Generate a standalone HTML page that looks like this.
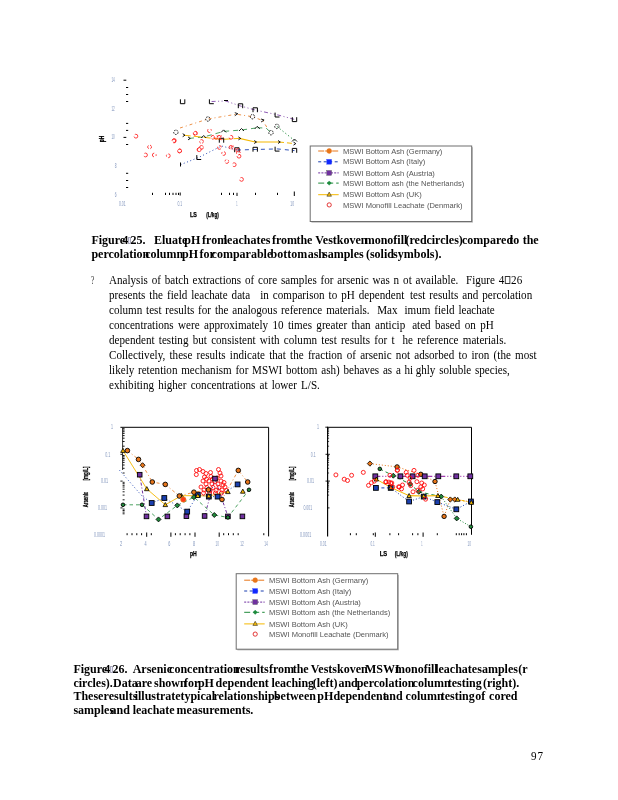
<!DOCTYPE html>
<html lang="en"><head><meta charset="utf-8"><title>Page 97</title>
<style>
html,body{margin:0;padding:0;background:#fff;}
body{width:618px;height:800px;position:relative;overflow:hidden;font-family:"Liberation Serif",serif;color:#000;}
.ln{position:absolute;white-space:pre;line-height:16px;height:16px;}
.b{font-weight:bold;}
.r{transform:scaleX(0.91);transform-origin:0 0;}
.b span{position:absolute;top:0;}
.g{display:inline-block;}
svg{position:absolute;left:0;top:0;}
svg text{font-family:"Liberation Sans",sans-serif;}
</style></head><body>
<div class="ln b" style="left:91.4px;top:231.7px;font-size:12px"><span style="left:0.0px">Figure</span> <span style="left:30.9px">4</span> <span style="left:36.8px"><i style="display:inline-block;width:3px;height:6.5px;border:1px solid #aab;box-sizing:border-box;background:#eef"></i></span> <span style="left:39.2px">25.</span> <span style="left:62.6px">Eluate</span> <span style="left:92.9px">pH</span> <span style="left:110.7px">from</span> <span style="left:132.4px">leachates</span> <span style="left:180.5px">from</span> <span style="left:205.0px">the</span> <span style="left:223.9px">Vestkoven</span> <span style="left:273.3px">monofill</span> <span style="left:314.1px">(red</span> <span style="left:335.0px">circles)</span> <span style="left:370.6px">compared</span> <span style="left:417.8px">to</span> <span style="left:431.3px">the</span> </div>
<div class="ln b" style="left:91.4px;top:245.5px;font-size:12px"><span style="left:0.0px">percolation</span> <span style="left:53.8px">column</span> <span style="left:90.6px">pH</span> <span style="left:108.2px">for</span> <span style="left:120.2px">comparable</span> <span style="left:179.2px">bottom</span> <span style="left:216.3px">ash</span> <span style="left:231.6px">samples</span> <span style="left:274.5px">(solid</span> <span style="left:301.7px">symbols).</span> </div>
<div class="ln b" style="left:73.4px;top:660.8px;font-size:12px"><span style="left:0.0px">Figure</span> <span style="left:30.9px">4</span> <span style="left:36.8px"><i style="display:inline-block;width:3px;height:6.5px;border:1px solid #aab;box-sizing:border-box;background:#eef"></i></span> <span style="left:39.2px">26.</span> <span style="left:59.3px">Arsenic</span> <span style="left:95.7px">concentration</span> <span style="left:161.6px">results</span> <span style="left:195.5px">from</span> <span style="left:219.3px">the</span> <span style="left:237.4px">Vestskoven</span> <span style="left:291.6px">MSWI</span> <span style="left:321.6px">monofill</span> <span style="left:361.8px">leachate</span> <span style="left:403.9px">samples</span> <span style="left:444.8px">(r</span> </div>
<div class="ln b" style="left:73.4px;top:674.6px;font-size:12px"><span style="left:0.0px">circles).</span> <span style="left:39.7px">Data</span> <span style="left:62.3px">are</span> <span style="left:80.6px">shown</span> <span style="left:110.7px">for</span> <span style="left:124.5px">pH</span> <span style="left:142.1px">dependent</span> <span style="left:198.0px">leaching</span> <span style="left:239.4px">(left)</span> <span style="left:265.0px">and</span> <span style="left:283.3px">percolation</span> <span style="left:339.2px">column</span> <span style="left:374.3px">testing</span> <span style="left:409.5px">(right).</span> </div>
<div class="ln b" style="left:73.4px;top:687.9px;font-size:12px"><span style="left:0.0px">These</span> <span style="left:30.2px">results</span> <span style="left:61.3px">illustrate</span> <span style="left:107.0px">typical</span> <span style="left:140.1px">relationships</span> <span style="left:200.5px">between</span> <span style="left:243.9px">pH</span> <span style="left:260.0px">dependent</span> <span style="left:309.9px">and</span> <span style="left:332.2px">column</span> <span style="left:367.3px">testing</span> <span style="left:401.9px">of</span> <span style="left:415.7px">cored</span> </div>
<div class="ln b" style="left:73.4px;top:701.5px;font-size:12px"><span style="left:0.0px">samples</span> <span style="left:37.2px">and</span> <span style="left:59.3px">leachate</span> <span style="left:103.2px">measurements.</span> </div>
<div class="ln r" style="left:108.9px;top:272.2px;font-size:12.2px;word-spacing:1.151px">Analysis of batch extractions of core samples for arsenic was n<span class="g" style="width:4.40px"></span>ot available.  Figure 4<span class="g" style="width:0.77px"></span><span class="g" style="width:5.93px;height:8px;border:1px solid #333;box-sizing:border-box"></span><span class="g" style="width:0.77px"></span>26</div>
<div class="ln r" style="left:108.9px;top:287.2px;font-size:12.2px;word-spacing:1.373px">presents the field leachate data <span class="g" style="width:2.20px"></span> in comparison to pH dependent<span class="g" style="width:1.65px"></span> test results and percolation</div>
<div class="ln r" style="left:108.9px;top:302.3px;font-size:12.2px;word-spacing:1.163px">column test results for the analogous reference materials.  Max<span class="g" style="width:7.69px"></span>imum field leachate</div>
<div class="ln r" style="left:108.9px;top:317.3px;font-size:12.2px;word-spacing:1.779px">concentrations were approximately 10 times greater than anticip<span class="g" style="width:7.69px"></span>ated based on pH</div>
<div class="ln r" style="left:108.9px;top:332.3px;font-size:12.2px;word-spacing:1.655px">dependent testing but consistent with column test results for t<span class="g" style="width:8.79px"></span>he reference materials.</div>
<div class="ln r" style="left:108.9px;top:347.3px;font-size:12.2px;word-spacing:1.644px">Collectively, these results indicate that the fraction of arsenic not adsorbed to iron (the most</div>
<div class="ln r" style="left:108.9px;top:362.4px;font-size:12.2px;word-spacing:1.069px">likely retention mechanism for MSWI bottom ash) behaves as a hi<span class="g" style="width:2.75px"></span>ghly soluble species,</div>
<div class="ln r" style="left:108.9px;top:377.4px;font-size:12.2px;word-spacing:1.538px">exhibiting higher concentrations at lower L/S.</div>
<div class="ln" style="left:90.8px;top:272.2px;font-size:12.2px;transform:scaleX(0.62);transform-origin:0 0;color:#333">?</div>
<div class="ln r" style="left:531.0px;top:748.4px;font-size:12.2px;letter-spacing:1px">97</div>
<svg width="618" height="800" viewBox="0 0 618 800">
<g>
<line x1="123.5" y1="80.2" x2="126.3" y2="80.2" stroke="#000" stroke-width="1"/>
<line x1="126.0" y1="87.5" x2="128.2" y2="87.5" stroke="#000" stroke-width="1"/>
<line x1="126.0" y1="94.5" x2="128.2" y2="94.5" stroke="#000" stroke-width="1"/>
<line x1="126.0" y1="101.5" x2="128.2" y2="101.5" stroke="#000" stroke-width="1"/>
<line x1="126.0" y1="123.4" x2="128.2" y2="123.4" stroke="#000" stroke-width="1"/>
<line x1="126.0" y1="130.4" x2="128.2" y2="130.4" stroke="#000" stroke-width="1"/>
<line x1="126.0" y1="144.5" x2="128.2" y2="144.5" stroke="#000" stroke-width="1"/>
<line x1="126.0" y1="173.3" x2="128.2" y2="173.3" stroke="#000" stroke-width="1"/>
<line x1="126.0" y1="180.5" x2="128.2" y2="180.5" stroke="#000" stroke-width="1"/>
<line x1="126.0" y1="187.5" x2="128.2" y2="187.5" stroke="#000" stroke-width="1"/>
<line x1="123.5" y1="137.4" x2="126.3" y2="137.4" stroke="#000" stroke-width="1"/>
<line x1="152.5" y1="192.8" x2="152.5" y2="195.0" stroke="#000" stroke-width="1"/>
<line x1="165.5" y1="192.8" x2="165.5" y2="195.0" stroke="#000" stroke-width="1"/>
<line x1="169.5" y1="192.8" x2="169.5" y2="195.0" stroke="#000" stroke-width="1"/>
<line x1="173.0" y1="192.8" x2="173.0" y2="195.0" stroke="#000" stroke-width="1"/>
<line x1="176.0" y1="192.8" x2="176.0" y2="195.0" stroke="#000" stroke-width="1"/>
<line x1="178.5" y1="192.8" x2="178.5" y2="195.0" stroke="#000" stroke-width="1"/>
<line x1="180.2" y1="192.5" x2="180.2" y2="195.5" stroke="#000" stroke-width="1"/>
<line x1="221.5" y1="192.8" x2="221.5" y2="195.0" stroke="#000" stroke-width="1"/>
<line x1="229.5" y1="192.8" x2="229.5" y2="195.0" stroke="#000" stroke-width="1"/>
<line x1="233.5" y1="192.8" x2="233.5" y2="195.0" stroke="#000" stroke-width="1"/>
<line x1="237.0" y1="192.8" x2="237.0" y2="196.0" stroke="#000" stroke-width="1"/>
<line x1="255.5" y1="192.8" x2="255.5" y2="195.0" stroke="#000" stroke-width="1"/>
<line x1="277.5" y1="192.8" x2="277.5" y2="195.0" stroke="#000" stroke-width="1"/>
<line x1="294.3" y1="191.5" x2="294.3" y2="196.0" stroke="#000" stroke-width="1"/>
<text x="111.4" y="81.7" font-size="6.3" fill="#8296bd" textLength="3.4" lengthAdjust="spacingAndGlyphs">14</text>
<text x="111.4" y="110.9" font-size="6.3" fill="#8296bd" textLength="3.4" lengthAdjust="spacingAndGlyphs">12</text>
<text x="111.4" y="139.4" font-size="6.3" fill="#8296bd" textLength="3.4" lengthAdjust="spacingAndGlyphs">10</text>
<text x="114.8" y="167.9" font-size="6.3" fill="#8296bd" textLength="1.8" lengthAdjust="spacingAndGlyphs">8</text>
<text x="114.8" y="196.5" font-size="6.3" fill="#8296bd" textLength="1.8" lengthAdjust="spacingAndGlyphs">6</text>
<text x="118.9" y="206.0" font-size="6.3" fill="#8296bd" textLength="6.7" lengthAdjust="spacingAndGlyphs">0.01</text>
<text x="177.4" y="206.0" font-size="6.3" fill="#8296bd" textLength="4.8" lengthAdjust="spacingAndGlyphs">0.1</text>
<text x="236.3" y="206.0" font-size="6.3" fill="#8296bd" textLength="1.3" lengthAdjust="spacingAndGlyphs">1</text>
<text x="290.3" y="206.0" font-size="6.3" fill="#8296bd" textLength="3.8" lengthAdjust="spacingAndGlyphs">10</text>
<text x="190.0" y="216.9" font-size="6.6" fill="#000" textLength="6.9" lengthAdjust="spacingAndGlyphs" font-weight="bold" stroke="#000" stroke-width="0.25">LS</text>
<text x="206.2" y="216.9" font-size="6.6" fill="#000" textLength="12.6" lengthAdjust="spacingAndGlyphs" font-weight="bold" stroke="#000" stroke-width="0.25">(L/kg)</text>
<text transform="translate(104.0 142.2) rotate(-90)" font-size="6.6" fill="#000" textLength="6.6" lengthAdjust="spacingAndGlyphs" font-weight="bold" stroke="#000" stroke-width="0.3">pH</text>
<polyline points="211.6,101.5 225.7,101.0 240.5,106.0 255.2,110.0 277.3,114.8 294.5,119.4" fill="none" stroke="#7030a0" stroke-width="0.8" stroke-dasharray="4 2.5 1 2.5 1 2.5"/>
<polyline points="180.0,128.0 207.9,119.0 236.3,114.2 252.5,116.7 262.6,120.5 268.0,129.0" fill="none" stroke="#e8761a" stroke-width="0.8" stroke-dasharray="3 3 1 3"/>
<polyline points="189.0,138.4 203.7,137.0 223.6,131.4 241.5,130.0 257.3,127.8" fill="none" stroke="#1f8a3a" stroke-width="0.8" stroke-dasharray="5 4"/>
<polyline points="257.3,127.8 266.0,128.0 271.0,132.7" fill="none" stroke="#1f8a3a" stroke-width="0.8" stroke-dasharray="5 4"/>
<polyline points="276.9,126.4 294.5,140.5" fill="none" stroke="#1f8a3a" stroke-width="1" stroke-dasharray="1.2 2.4"/>
<polyline points="183.7,135.2 203.7,137.3 221.5,139.4 239.4,138.4" fill="none" stroke="#f5b800" stroke-width="1" stroke-dasharray="7 3"/>
<polyline points="239.4,138.4 255.2,142.0 279.0,142.0" fill="none" stroke="#f5b800" stroke-width="1.1" stroke-dasharray=""/>
<polyline points="279.0,142.0 294.5,143.6" fill="none" stroke="#f5b800" stroke-width="1" stroke-dasharray="5 3"/>
<polyline points="180.5,164.7 199.0,157.3 221.5,146.0 236.9,150.0" fill="none" stroke="#1a3fb0" stroke-width="0.9" stroke-dasharray="1 2.5"/>
<polyline points="236.9,150.0 255.2,149.5 277.3,148.9 294.5,150.6" fill="none" stroke="#1a3fb0" stroke-width="0.9" stroke-dasharray="4 4"/>
<path d="M180.4 99.3 V103.7 H184.8 V99.3" fill="none" stroke="#000" stroke-width="1"/>
<path d="M209.4 99.3 V103.7 H213.8" fill="none" stroke="#000" stroke-width="1"/>
<line x1="224.0" y1="100.5" x2="228.0" y2="100.5" stroke="#000" stroke-width="1"/>
<path d="M238.3 108.2 V103.8 H242.7 V108.2" fill="none" stroke="#000" stroke-width="1"/>
<path d="M253.0 112.2 V107.8 H257.4 V112.2" fill="none" stroke="#000" stroke-width="1"/>
<path d="M275.1 112.6 V117.0 H279.5" fill="none" stroke="#000" stroke-width="1"/>
<path d="M292.3 117.2 V121.6 H296.7 V117.2" fill="none" stroke="#000" stroke-width="1"/>
<line x1="180.5" y1="162.5" x2="180.5" y2="166.5" stroke="#000" stroke-width="1"/>
<path d="M196.8 155.1 V159.5 H201.2" fill="none" stroke="#000" stroke-width="1"/>
<path d="M219.3 142.7 V138.3 H223.7 V142.7" fill="none" stroke="#000" stroke-width="1"/>
<path d="M234.7 152.2 V147.8 H239.1 V152.2" fill="none" stroke="#000" stroke-width="1"/>
<path d="M253.0 151.7 V147.3 H257.4 V151.7" fill="none" stroke="#000" stroke-width="1"/>
<path d="M275.1 146.7 V151.1 H279.5" fill="none" stroke="#000" stroke-width="1"/>
<path d="M292.3 152.8 V148.4 H296.7 V152.8" fill="none" stroke="#000" stroke-width="1"/>
<circle cx="175.9" cy="132.3" r="2.2" fill="none" stroke="#000" stroke-width="0.9" stroke-dasharray="1.5 1"/>
<circle cx="207.9" cy="119.0" r="2.2" fill="none" stroke="#000" stroke-width="0.9" stroke-dasharray="1.5 1"/>
<circle cx="252.5" cy="116.7" r="2.2" fill="none" stroke="#000" stroke-width="0.9" stroke-dasharray="1.5 1"/>
<circle cx="271.0" cy="132.7" r="2.2" fill="none" stroke="#000" stroke-width="0.9" stroke-dasharray="1.5 1"/>
<circle cx="276.9" cy="126.4" r="2.2" fill="none" stroke="#000" stroke-width="0.9" stroke-dasharray="1.5 1"/>
<path d="M234.8 112.7 l3 1 l-3 2" fill="none" stroke="#000" stroke-width="0.9"/>
<path d="M261.1 119.0 l3 1 l-3 2" fill="none" stroke="#000" stroke-width="0.9"/>
<path d="M201.2 138.0 l2.5 -2.5 l2.5 2.5" fill="none" stroke="#000" stroke-width="0.9"/>
<path d="M221.1 132.4 l2.5 -2.5 l2.5 2.5" fill="none" stroke="#000" stroke-width="0.9"/>
<path d="M239.0 131.0 l2.5 -2.5 l2.5 2.5" fill="none" stroke="#000" stroke-width="0.9"/>
<path d="M254.8 128.8 l2.5 -2.5 l2.5 2.5" fill="none" stroke="#000" stroke-width="0.9"/>
<path d="M292.0 141.5 l2.5 -2.5 l2.5 2.5" fill="none" stroke="#000" stroke-width="0.9"/>
<path d="M182.7 133.7 l2.3 1.5 l-2.3 1.5" fill="none" stroke="#000" stroke-width="0.9"/>
<path d="M188.0 136.9 l2.3 1.5 l-2.3 1.5" fill="none" stroke="#000" stroke-width="0.9"/>
<path d="M238.4 136.9 l2.3 1.5 l-2.3 1.5" fill="none" stroke="#000" stroke-width="0.9"/>
<path d="M254.2 140.5 l2.3 1.5 l-2.3 1.5" fill="none" stroke="#000" stroke-width="0.9"/>
<path d="M278.0 140.5 l2.3 1.5 l-2.3 1.5" fill="none" stroke="#000" stroke-width="0.9"/>
<path d="M293.5 142.1 l2.3 1.5 l-2.3 1.5" fill="none" stroke="#000" stroke-width="0.9"/>
<circle cx="135.9" cy="136.2" r="1.9" fill="none" stroke="#ff1010" stroke-width="0.8" stroke-dasharray="5 2" stroke-dashoffset="0"/>
<circle cx="149.6" cy="147.0" r="1.9" fill="none" stroke="#ff1010" stroke-width="0.8" stroke-dasharray="3.5 1.5 2 1.5" stroke-dashoffset="5"/>
<circle cx="145.5" cy="155.0" r="1.9" fill="none" stroke="#ff1010" stroke-width="0.8" stroke-dasharray="6 2.5" stroke-dashoffset="10"/>
<circle cx="154.3" cy="155.0" r="1.9" fill="none" stroke="#ff1010" stroke-width="0.8" stroke-dasharray="5 2" stroke-dashoffset="4"/>
<circle cx="168.3" cy="155.8" r="1.9" fill="none" stroke="#ff1010" stroke-width="0.8" stroke-dasharray="3.5 1.5 2 1.5" stroke-dashoffset="9"/>
<circle cx="173.9" cy="141.0" r="1.9" fill="none" stroke="#ff1010" stroke-width="0.8" stroke-dasharray="6 2.5" stroke-dashoffset="3"/>
<circle cx="179.7" cy="150.9" r="1.9" fill="none" stroke="#ff1010" stroke-width="0.8" stroke-dasharray="5 2" stroke-dashoffset="8"/>
<circle cx="195.4" cy="133.4" r="1.9" fill="none" stroke="#ff1010" stroke-width="0.8" stroke-dasharray="3.5 1.5 2 1.5" stroke-dashoffset="2"/>
<circle cx="199.0" cy="149.7" r="1.9" fill="none" stroke="#ff1010" stroke-width="0.8" stroke-dasharray="6 2.5" stroke-dashoffset="7"/>
<circle cx="174.2" cy="140.5" r="1.9" fill="none" stroke="#ff1010" stroke-width="0.8" stroke-dasharray="5 2" stroke-dashoffset="1"/>
<circle cx="179.5" cy="151.0" r="1.9" fill="none" stroke="#ff1010" stroke-width="0.8" stroke-dasharray="3.5 1.5 2 1.5" stroke-dashoffset="6"/>
<circle cx="195.2" cy="133.1" r="1.9" fill="none" stroke="#ff1010" stroke-width="0.8" stroke-dasharray="6 2.5" stroke-dashoffset="0"/>
<circle cx="209.5" cy="130.6" r="1.9" fill="none" stroke="#ff1010" stroke-width="0.8" stroke-dasharray="5 2" stroke-dashoffset="5"/>
<circle cx="201.5" cy="141.5" r="1.9" fill="none" stroke="#ff1010" stroke-width="0.8" stroke-dasharray="3.5 1.5 2 1.5" stroke-dashoffset="10"/>
<circle cx="199.4" cy="149.5" r="1.9" fill="none" stroke="#ff1010" stroke-width="0.8" stroke-dasharray="6 2.5" stroke-dashoffset="4"/>
<circle cx="201.5" cy="147.4" r="1.9" fill="none" stroke="#ff1010" stroke-width="0.8" stroke-dasharray="5 2" stroke-dashoffset="9"/>
<circle cx="213.0" cy="137.3" r="1.9" fill="none" stroke="#ff1010" stroke-width="0.8" stroke-dasharray="3.5 1.5 2 1.5" stroke-dashoffset="3"/>
<circle cx="216.0" cy="137.3" r="1.9" fill="none" stroke="#ff1010" stroke-width="0.8" stroke-dasharray="6 2.5" stroke-dashoffset="8"/>
<circle cx="219.0" cy="137.3" r="1.9" fill="none" stroke="#ff1010" stroke-width="0.8" stroke-dasharray="5 2" stroke-dashoffset="2"/>
<circle cx="221.5" cy="137.8" r="1.9" fill="none" stroke="#ff1010" stroke-width="0.8" stroke-dasharray="3.5 1.5 2 1.5" stroke-dashoffset="7"/>
<circle cx="231.0" cy="137.3" r="1.9" fill="none" stroke="#ff1010" stroke-width="0.8" stroke-dasharray="6 2.5" stroke-dashoffset="1"/>
<circle cx="219.4" cy="147.4" r="1.9" fill="none" stroke="#ff1010" stroke-width="0.8" stroke-dasharray="5 2" stroke-dashoffset="6"/>
<circle cx="223.6" cy="153.5" r="1.9" fill="none" stroke="#ff1010" stroke-width="0.8" stroke-dasharray="3.5 1.5 2 1.5" stroke-dashoffset="0"/>
<circle cx="231.0" cy="147.4" r="1.9" fill="none" stroke="#ff1010" stroke-width="0.8" stroke-dasharray="6 2.5" stroke-dashoffset="5"/>
<circle cx="233.0" cy="148.0" r="1.9" fill="none" stroke="#ff1010" stroke-width="0.8" stroke-dasharray="5 2" stroke-dashoffset="10"/>
<circle cx="238.4" cy="153.0" r="1.9" fill="none" stroke="#ff1010" stroke-width="0.8" stroke-dasharray="3.5 1.5 2 1.5" stroke-dashoffset="4"/>
<circle cx="239.0" cy="156.2" r="1.9" fill="none" stroke="#ff1010" stroke-width="0.8" stroke-dasharray="6 2.5" stroke-dashoffset="9"/>
<circle cx="238.0" cy="150.5" r="1.9" fill="none" stroke="#ff1010" stroke-width="0.8" stroke-dasharray="5 2" stroke-dashoffset="3"/>
<circle cx="226.8" cy="161.5" r="1.9" fill="none" stroke="#ff1010" stroke-width="0.8" stroke-dasharray="3.5 1.5 2 1.5" stroke-dashoffset="8"/>
<circle cx="234.2" cy="164.7" r="1.9" fill="none" stroke="#ff1010" stroke-width="0.8" stroke-dasharray="6 2.5" stroke-dashoffset="2"/>
<circle cx="241.5" cy="179.4" r="1.9" fill="none" stroke="#ff1010" stroke-width="0.8" stroke-dasharray="5 2" stroke-dashoffset="7"/>
</g>
<g>
<rect x="311.4" y="147.2" width="161.5" height="75.5" fill="#bbb"/>
<rect x="310.2" y="146.0" width="161.5" height="75.5" fill="#fff" stroke="#6e6e6e" stroke-width="1"/>
<line x1="318.2" y1="151.0" x2="338.7" y2="151.0" stroke="#e8761a" stroke-width="1" stroke-dasharray="6 1"/>
<circle cx="329.2" cy="151.0" r="2.4" fill="#e8761a" stroke="#e8761a" stroke-width="0.5"/>
<text x="343.0" y="153.6" font-size="7.55" fill="#555">MSWI Bottom Ash (Germany)</text>
<line x1="318.2" y1="161.8" x2="338.7" y2="161.8" stroke="#1a3fb0" stroke-width="1" stroke-dasharray="3 2.5"/>
<rect x="326.8" y="159.4" width="4.8" height="4.8" fill="#1028ff" stroke="#1028ff" stroke-width="0.3"/>
<text x="343.0" y="164.4" font-size="7.55" fill="#555">MSWI Bottom Ash (Italy)</text>
<line x1="318.2" y1="172.9" x2="338.7" y2="172.9" stroke="#7030a0" stroke-width="1" stroke-dasharray="2 1.2"/>
<rect x="326.8" y="170.5" width="4.8" height="4.8" fill="#7030a0" stroke="#555" stroke-width="0.4"/>
<text x="343.0" y="175.5" font-size="7.55" fill="#555">MSWI Bottom Ash (Austria)</text>
<line x1="318.2" y1="183.1" x2="338.7" y2="183.1" stroke="#1f8a3a" stroke-width="1" stroke-dasharray="6 3"/>
<polygon points="329.2,180.9 331.4,183.1 329.2,185.3 327.0,183.1" fill="#1f8a3a" stroke="#084" stroke-width="0.3"/>
<text x="343.0" y="185.7" font-size="7.55" fill="#555">MSWI Bottom ash (the Netherlands)</text>
<line x1="318.2" y1="194.7" x2="338.7" y2="194.7" stroke="#f5b800" stroke-width="1" stroke-dasharray=""/>
<polygon points="329.2,192.1 331.5,196.2 326.9,196.2" fill="#f5b800" stroke="#333" stroke-width="0.6"/>
<text x="343.0" y="197.3" font-size="7.55" fill="#555">MSWI Bottom Ash (UK)</text>
<circle cx="329.2" cy="204.9" r="2.1" fill="#fff" stroke="#e02020" stroke-width="0.9"/>
<text x="343.0" y="207.5" font-size="7.55" fill="#555">MSWI Monofill Leachate (Denmark)</text>
</g>
<g>
<rect x="237.4" y="574.9" width="161.5" height="75.5" fill="#bbb"/>
<rect x="236.2" y="573.7" width="161.5" height="75.5" fill="#fff" stroke="#6e6e6e" stroke-width="1"/>
<line x1="244.2" y1="580.2" x2="264.7" y2="580.2" stroke="#e8761a" stroke-width="1" stroke-dasharray="6 1"/>
<circle cx="255.2" cy="580.2" r="2.4" fill="#e8761a" stroke="#e8761a" stroke-width="0.5"/>
<text x="269.0" y="582.8" font-size="7.55" fill="#555">MSWI Bottom Ash (Germany)</text>
<line x1="244.2" y1="591.0" x2="264.7" y2="591.0" stroke="#1a3fb0" stroke-width="1" stroke-dasharray="3 2.5"/>
<rect x="252.8" y="588.6" width="4.8" height="4.8" fill="#1028ff" stroke="#1028ff" stroke-width="0.3"/>
<text x="269.0" y="593.6" font-size="7.55" fill="#555">MSWI Bottom Ash (Italy)</text>
<line x1="244.2" y1="602.1" x2="264.7" y2="602.1" stroke="#7030a0" stroke-width="1" stroke-dasharray="2 1.2"/>
<rect x="252.8" y="599.7" width="4.8" height="4.8" fill="#7030a0" stroke="#555" stroke-width="0.4"/>
<text x="269.0" y="604.7" font-size="7.55" fill="#555">MSWI Bottom Ash (Austria)</text>
<line x1="244.2" y1="612.3" x2="264.7" y2="612.3" stroke="#1f8a3a" stroke-width="1" stroke-dasharray="6 3"/>
<polygon points="255.2,610.1 257.4,612.3 255.2,614.5 253.0,612.3" fill="#1f8a3a" stroke="#084" stroke-width="0.3"/>
<text x="269.0" y="614.9" font-size="7.55" fill="#555">MSWI Bottom ash (the Netherlands)</text>
<line x1="244.2" y1="623.9" x2="264.7" y2="623.9" stroke="#f5b800" stroke-width="1" stroke-dasharray=""/>
<polygon points="255.2,621.3 257.5,625.4 252.9,625.4" fill="#f5b800" stroke="#333" stroke-width="0.6"/>
<text x="269.0" y="626.5" font-size="7.55" fill="#555">MSWI Bottom Ash (UK)</text>
<circle cx="255.2" cy="634.1" r="2.1" fill="#fff" stroke="#e02020" stroke-width="0.9"/>
<text x="269.0" y="636.7" font-size="7.55" fill="#555">MSWI Monofill Leachate (Denmark)</text>
</g>
<g>
<path d="M122.6 427.3 H268.6 V536.4" fill="none" stroke="#000" stroke-width="1"/>
<line x1="120.4" y1="454.3" x2="122.6" y2="454.3" stroke="#000" stroke-width="0.9"/>
<line x1="122.6" y1="446.2" x2="124.6" y2="446.2" stroke="#000" stroke-width="0.9"/>
<line x1="122.6" y1="441.5" x2="124.6" y2="441.5" stroke="#000" stroke-width="0.9"/>
<line x1="122.6" y1="438.2" x2="124.6" y2="438.2" stroke="#000" stroke-width="0.9"/>
<line x1="122.6" y1="435.6" x2="124.6" y2="435.6" stroke="#000" stroke-width="0.9"/>
<line x1="122.6" y1="433.4" x2="124.6" y2="433.4" stroke="#000" stroke-width="0.9"/>
<line x1="122.6" y1="431.7" x2="124.6" y2="431.7" stroke="#000" stroke-width="0.9"/>
<line x1="122.6" y1="430.1" x2="124.6" y2="430.1" stroke="#000" stroke-width="0.9"/>
<line x1="122.6" y1="428.7" x2="124.6" y2="428.7" stroke="#000" stroke-width="0.9"/>
<line x1="120.4" y1="481.1" x2="122.6" y2="481.1" stroke="#000" stroke-width="0.9"/>
<line x1="122.6" y1="473.0" x2="124.6" y2="473.0" stroke="#000" stroke-width="0.9"/>
<line x1="122.6" y1="468.3" x2="124.6" y2="468.3" stroke="#000" stroke-width="0.9"/>
<line x1="122.6" y1="465.0" x2="124.6" y2="465.0" stroke="#000" stroke-width="0.9"/>
<line x1="122.6" y1="462.4" x2="124.6" y2="462.4" stroke="#000" stroke-width="0.9"/>
<line x1="122.6" y1="460.2" x2="124.6" y2="460.2" stroke="#000" stroke-width="0.9"/>
<line x1="122.6" y1="458.5" x2="124.6" y2="458.5" stroke="#000" stroke-width="0.9"/>
<line x1="122.6" y1="456.9" x2="124.6" y2="456.9" stroke="#000" stroke-width="0.9"/>
<line x1="122.6" y1="455.5" x2="124.6" y2="455.5" stroke="#000" stroke-width="0.9"/>
<line x1="120.4" y1="507.9" x2="122.6" y2="507.9" stroke="#000" stroke-width="0.9"/>
<line x1="122.6" y1="499.8" x2="124.6" y2="499.8" stroke="#000" stroke-width="0.9"/>
<line x1="122.6" y1="495.1" x2="124.6" y2="495.1" stroke="#000" stroke-width="0.9"/>
<line x1="122.6" y1="491.8" x2="124.6" y2="491.8" stroke="#000" stroke-width="0.9"/>
<line x1="122.6" y1="489.2" x2="124.6" y2="489.2" stroke="#000" stroke-width="0.9"/>
<line x1="122.6" y1="487.0" x2="124.6" y2="487.0" stroke="#000" stroke-width="0.9"/>
<line x1="122.6" y1="485.3" x2="124.6" y2="485.3" stroke="#000" stroke-width="0.9"/>
<line x1="122.6" y1="483.7" x2="124.6" y2="483.7" stroke="#000" stroke-width="0.9"/>
<line x1="122.6" y1="482.3" x2="124.6" y2="482.3" stroke="#000" stroke-width="0.9"/>
<line x1="122.6" y1="513.8" x2="124.6" y2="513.8" stroke="#000" stroke-width="0.9"/>
<line x1="122.6" y1="512.1" x2="124.6" y2="512.1" stroke="#000" stroke-width="0.9"/>
<line x1="122.6" y1="510.5" x2="124.6" y2="510.5" stroke="#000" stroke-width="0.9"/>
<line x1="122.6" y1="509.1" x2="124.6" y2="509.1" stroke="#000" stroke-width="0.9"/>
<line x1="120.4" y1="427.3" x2="122.6" y2="427.3" stroke="#000" stroke-width="1"/>
<line x1="122.6" y1="427.3" x2="122.6" y2="470.0" stroke="#000" stroke-width="0.8"/>
<line x1="127.1" y1="533.2" x2="127.1" y2="535.2" stroke="#000" stroke-width="1"/>
<line x1="132.0" y1="533.2" x2="132.0" y2="535.2" stroke="#000" stroke-width="1"/>
<line x1="136.8" y1="533.2" x2="136.8" y2="535.2" stroke="#000" stroke-width="1"/>
<line x1="141.6" y1="533.2" x2="141.6" y2="535.2" stroke="#000" stroke-width="1"/>
<line x1="151.3" y1="533.2" x2="151.3" y2="535.2" stroke="#000" stroke-width="1"/>
<line x1="175.4" y1="533.2" x2="175.4" y2="535.2" stroke="#000" stroke-width="1"/>
<line x1="180.2" y1="533.2" x2="180.2" y2="535.2" stroke="#000" stroke-width="1"/>
<line x1="185.1" y1="533.2" x2="185.1" y2="535.2" stroke="#000" stroke-width="1"/>
<line x1="189.9" y1="533.2" x2="189.9" y2="535.2" stroke="#000" stroke-width="1"/>
<line x1="223.7" y1="533.2" x2="223.7" y2="535.2" stroke="#000" stroke-width="1"/>
<line x1="228.5" y1="533.2" x2="228.5" y2="535.2" stroke="#000" stroke-width="1"/>
<line x1="233.3" y1="533.2" x2="233.3" y2="535.2" stroke="#000" stroke-width="1"/>
<line x1="238.2" y1="533.2" x2="238.2" y2="535.2" stroke="#000" stroke-width="1"/>
<line x1="146.7" y1="532.5" x2="146.7" y2="536.8" stroke="#000" stroke-width="1"/>
<line x1="170.9" y1="532.5" x2="170.9" y2="536.8" stroke="#000" stroke-width="1"/>
<line x1="195.0" y1="532.5" x2="195.0" y2="536.8" stroke="#000" stroke-width="1"/>
<line x1="219.2" y1="532.5" x2="219.2" y2="536.8" stroke="#000" stroke-width="1"/>
<line x1="263.8" y1="533.2" x2="263.8" y2="535.2" stroke="#000" stroke-width="1"/>
<text x="111.1" y="429.2" font-size="7" fill="#8296bd" textLength="2.0" lengthAdjust="spacingAndGlyphs">1</text>
<text x="105.3" y="456.7" font-size="7" fill="#8296bd" textLength="5.1" lengthAdjust="spacingAndGlyphs">0.1</text>
<text x="100.9" y="483.0" font-size="7" fill="#8296bd" textLength="7.3" lengthAdjust="spacingAndGlyphs">0.01</text>
<text x="98.0" y="510.0" font-size="7" fill="#8296bd" textLength="9.1" lengthAdjust="spacingAndGlyphs">0.001</text>
<text x="94.0" y="537.0" font-size="7" fill="#8296bd" textLength="11.0" lengthAdjust="spacingAndGlyphs">0.0001</text>
<text x="120.0" y="546.3" font-size="7" fill="#8296bd" textLength="2.2" lengthAdjust="spacingAndGlyphs">2</text>
<text x="144.5" y="546.3" font-size="7" fill="#8296bd" textLength="2.1" lengthAdjust="spacingAndGlyphs">4</text>
<text x="168.2" y="546.3" font-size="7" fill="#8296bd" textLength="2.1" lengthAdjust="spacingAndGlyphs">6</text>
<text x="192.9" y="546.3" font-size="7" fill="#8296bd" textLength="2.1" lengthAdjust="spacingAndGlyphs">8</text>
<text x="215.6" y="546.3" font-size="7" fill="#8296bd" textLength="3.3" lengthAdjust="spacingAndGlyphs">10</text>
<text x="240.3" y="546.3" font-size="7" fill="#8296bd" textLength="3.5" lengthAdjust="spacingAndGlyphs">12</text>
<text x="264.2" y="546.3" font-size="7" fill="#8296bd" textLength="3.5" lengthAdjust="spacingAndGlyphs">14</text>
<text x="190.0" y="555.6" font-size="6.8" fill="#000" textLength="6.8" lengthAdjust="spacingAndGlyphs" font-weight="bold" stroke="#000" stroke-width="0.25">pH</text>
<text transform="translate(87.6 507.2) rotate(-90)" font-size="7.6" fill="#000" textLength="15.4" lengthAdjust="spacingAndGlyphs" font-weight="bold" stroke="#000" stroke-width="0.3">Arsenic</text>
<text transform="translate(87.6 480.5) rotate(-90)" font-size="7.6" fill="#000" textLength="14.0" lengthAdjust="spacingAndGlyphs" font-weight="bold" stroke="#000" stroke-width="0.3">[mg/L]</text>
<polyline points="127.4,450.6 138.5,459.4 142.6,465.2 152.3,482.0 165.3,484.4 179.3,496.0 193.9,492.2 208.4,489.8 222.0,499.5 238.3,470.4 247.7,482.0" fill="none" stroke="#e8761a" stroke-width="0.8" stroke-dasharray="3 2.5 1 2.5"/>
<polyline points="123.0,450.6 146.8,488.9 165.3,504.8 181.4,495.7 197.8,495.7 208.8,496.0 227.9,491.8" fill="none" stroke="#f5b800" stroke-width="0.9" stroke-dasharray=""/>
<polyline points="119.3,470.0 142.0,496.0 151.7,503.0 164.3,498.0 187.2,511.6 197.8,494.7 208.8,496.6 217.6,496.6 237.6,484.4" fill="none" stroke="#1a3fb0" stroke-width="0.9" stroke-dasharray="1 2.3"/>
<polyline points="139.7,474.7 146.5,516.4" fill="none" stroke="#7030a0" stroke-width="1" stroke-dasharray="3 2 1 2"/>
<polyline points="204.6,516.0 215.0,478.6 227.9,516.4" fill="none" stroke="#7030a0" stroke-width="1" stroke-dasharray="3 2 1 2"/>
<polyline points="123.0,504.8 142.0,504.8 158.5,519.4 177.3,505.4 193.9,497.2 214.3,515.0 227.9,517.4 249.0,489.8" fill="none" stroke="#1f8a3a" stroke-width="0.8" stroke-dasharray="3.5 3"/>
<circle cx="196.5" cy="470.5" r="2.0" fill="none" stroke="#ff1010" stroke-width="0.9"/>
<circle cx="199.5" cy="469.5" r="2.0" fill="none" stroke="#ff1010" stroke-width="0.9"/>
<circle cx="196.3" cy="474.6" r="2.0" fill="none" stroke="#ff1010" stroke-width="0.9"/>
<circle cx="203.0" cy="471.5" r="2.0" fill="none" stroke="#ff1010" stroke-width="0.9"/>
<circle cx="206.0" cy="473.5" r="2.0" fill="none" stroke="#ff1010" stroke-width="0.9"/>
<circle cx="204.5" cy="477.0" r="2.0" fill="none" stroke="#ff1010" stroke-width="0.9"/>
<circle cx="210.5" cy="472.5" r="2.0" fill="none" stroke="#ff1010" stroke-width="0.9"/>
<circle cx="211.0" cy="476.5" r="2.0" fill="none" stroke="#ff1010" stroke-width="0.9"/>
<circle cx="218.5" cy="469.5" r="2.0" fill="none" stroke="#ff1010" stroke-width="0.9"/>
<circle cx="220.0" cy="473.0" r="2.0" fill="none" stroke="#ff1010" stroke-width="0.9"/>
<circle cx="221.0" cy="476.0" r="2.0" fill="none" stroke="#ff1010" stroke-width="0.9"/>
<circle cx="203.0" cy="481.0" r="2.0" fill="none" stroke="#ff1010" stroke-width="0.9"/>
<circle cx="206.0" cy="484.0" r="2.0" fill="none" stroke="#ff1010" stroke-width="0.9"/>
<circle cx="209.0" cy="481.0" r="2.0" fill="none" stroke="#ff1010" stroke-width="0.9"/>
<circle cx="212.0" cy="484.0" r="2.0" fill="none" stroke="#ff1010" stroke-width="0.9"/>
<circle cx="215.0" cy="481.5" r="2.0" fill="none" stroke="#ff1010" stroke-width="0.9"/>
<circle cx="218.0" cy="484.0" r="2.0" fill="none" stroke="#ff1010" stroke-width="0.9"/>
<circle cx="221.0" cy="481.0" r="2.0" fill="none" stroke="#ff1010" stroke-width="0.9"/>
<circle cx="224.0" cy="482.5" r="2.0" fill="none" stroke="#ff1010" stroke-width="0.9"/>
<circle cx="201.0" cy="487.0" r="2.0" fill="none" stroke="#ff1010" stroke-width="0.9"/>
<circle cx="204.0" cy="490.0" r="2.0" fill="none" stroke="#ff1010" stroke-width="0.9"/>
<circle cx="207.0" cy="487.5" r="2.0" fill="none" stroke="#ff1010" stroke-width="0.9"/>
<circle cx="210.0" cy="490.5" r="2.0" fill="none" stroke="#ff1010" stroke-width="0.9"/>
<circle cx="213.0" cy="487.5" r="2.0" fill="none" stroke="#ff1010" stroke-width="0.9"/>
<circle cx="216.0" cy="490.5" r="2.0" fill="none" stroke="#ff1010" stroke-width="0.9"/>
<circle cx="219.0" cy="487.5" r="2.0" fill="none" stroke="#ff1010" stroke-width="0.9"/>
<circle cx="222.0" cy="490.0" r="2.0" fill="none" stroke="#ff1010" stroke-width="0.9"/>
<circle cx="225.0" cy="487.0" r="2.0" fill="none" stroke="#ff1010" stroke-width="0.9"/>
<circle cx="226.5" cy="490.5" r="2.0" fill="none" stroke="#ff1010" stroke-width="0.9"/>
<circle cx="203.5" cy="493.0" r="2.0" fill="none" stroke="#ff1010" stroke-width="0.9"/>
<circle cx="209.5" cy="493.0" r="2.0" fill="none" stroke="#ff1010" stroke-width="0.9"/>
<circle cx="215.5" cy="493.0" r="2.0" fill="none" stroke="#ff1010" stroke-width="0.9"/>
<circle cx="221.5" cy="493.0" r="2.0" fill="none" stroke="#ff1010" stroke-width="0.9"/>
<circle cx="206.5" cy="479.0" r="2.0" fill="none" stroke="#ff1010" stroke-width="0.9"/>
<circle cx="212.5" cy="479.0" r="2.0" fill="none" stroke="#ff1010" stroke-width="0.9"/>
<circle cx="217.0" cy="478.0" r="2.0" fill="none" stroke="#ff1010" stroke-width="0.9"/>
<circle cx="223.0" cy="485.0" r="2.0" fill="none" stroke="#ff1010" stroke-width="0.9"/>
<rect x="137.4" y="472.4" width="4.6" height="4.6" fill="#7030a0" stroke="#000" stroke-width="0.9"/>
<rect x="144.2" y="514.1" width="4.6" height="4.6" fill="#7030a0" stroke="#000" stroke-width="0.9"/>
<rect x="165.1" y="514.1" width="4.6" height="4.6" fill="#7030a0" stroke="#000" stroke-width="0.9"/>
<rect x="184.1" y="513.9" width="4.6" height="4.6" fill="#7030a0" stroke="#000" stroke-width="0.9"/>
<rect x="202.3" y="513.7" width="4.6" height="4.6" fill="#7030a0" stroke="#000" stroke-width="0.9"/>
<rect x="212.7" y="476.3" width="4.6" height="4.6" fill="#7030a0" stroke="#000" stroke-width="0.9"/>
<rect x="225.6" y="514.1" width="4.6" height="4.6" fill="#7030a0" stroke="#000" stroke-width="0.9"/>
<rect x="240.1" y="514.1" width="4.6" height="4.6" fill="#7030a0" stroke="#000" stroke-width="0.9"/>
<rect x="149.3" y="500.6" width="4.8" height="4.8" fill="#1a3fb0" stroke="#000" stroke-width="0.9"/>
<rect x="161.9" y="495.6" width="4.8" height="4.8" fill="#1a3fb0" stroke="#000" stroke-width="0.9"/>
<rect x="184.8" y="509.2" width="4.8" height="4.8" fill="#1a3fb0" stroke="#000" stroke-width="0.9"/>
<rect x="195.4" y="492.3" width="4.8" height="4.8" fill="#1a3fb0" stroke="#000" stroke-width="0.9"/>
<rect x="206.4" y="494.2" width="4.8" height="4.8" fill="#1a3fb0" stroke="#000" stroke-width="0.9"/>
<rect x="215.2" y="494.2" width="4.8" height="4.8" fill="#1a3fb0" stroke="#000" stroke-width="0.9"/>
<rect x="235.2" y="482.0" width="4.8" height="4.8" fill="#1a3fb0" stroke="#000" stroke-width="0.9"/>
<circle cx="123.0" cy="504.8" r="1.8" fill="#1f8a3a" stroke="#000" stroke-width="0.9"/>
<circle cx="142.0" cy="504.8" r="1.8" fill="#1f8a3a" stroke="#000" stroke-width="0.9"/>
<polygon points="158.5,516.9 161.0,519.4 158.5,521.9 156.0,519.4" fill="#1f8a3a" stroke="#000" stroke-width="0.8"/>
<polygon points="177.3,502.9 179.8,505.4 177.3,507.9 174.8,505.4" fill="#1f8a3a" stroke="#000" stroke-width="0.8"/>
<polygon points="193.9,494.7 196.4,497.2 193.9,499.7 191.4,497.2" fill="#1f8a3a" stroke="#000" stroke-width="0.8"/>
<polygon points="214.3,512.5 216.8,515.0 214.3,517.5 211.8,515.0" fill="#1f8a3a" stroke="#000" stroke-width="0.8"/>
<circle cx="227.9" cy="517.4" r="1.8" fill="#1f8a3a" stroke="#000" stroke-width="0.9"/>
<circle cx="249.0" cy="489.8" r="1.8" fill="#1f8a3a" stroke="#000" stroke-width="0.9"/>
<polygon points="123.0,448.3 125.3,452.4 120.7,452.4" fill="#f5b800" stroke="#000" stroke-width="0.8"/>
<polygon points="146.8,486.6 149.1,490.7 144.5,490.7" fill="#f5b800" stroke="#000" stroke-width="0.8"/>
<polygon points="165.3,502.5 167.6,506.6 163.0,506.6" fill="#f5b800" stroke="#000" stroke-width="0.8"/>
<polygon points="181.4,493.4 183.7,497.5 179.1,497.5" fill="#f5b800" stroke="#000" stroke-width="0.8"/>
<polygon points="197.8,493.4 200.1,497.5 195.5,497.5" fill="#f5b800" stroke="#000" stroke-width="0.8"/>
<polygon points="208.8,493.7 211.1,497.8 206.5,497.8" fill="#f5b800" stroke="#000" stroke-width="0.8"/>
<polygon points="227.9,489.5 230.2,493.6 225.6,493.6" fill="#f5b800" stroke="#000" stroke-width="0.8"/>
<polygon points="242.8,489.1 245.1,493.2 240.5,493.2" fill="#f5b800" stroke="#000" stroke-width="0.8"/>
<circle cx="127.4" cy="450.6" r="2.3" fill="#e8761a" stroke="#000" stroke-width="0.9"/>
<circle cx="138.5" cy="459.4" r="2.3" fill="#e8761a" stroke="#000" stroke-width="0.9"/>
<polygon points="142.6,462.7 145.1,465.2 142.6,467.7 140.1,465.2" fill="#e8761a" stroke="#000" stroke-width="0.8"/>
<circle cx="152.3" cy="482.0" r="2.3" fill="#e8761a" stroke="#000" stroke-width="0.9"/>
<circle cx="165.3" cy="484.4" r="2.3" fill="#e8761a" stroke="#000" stroke-width="0.9"/>
<circle cx="179.3" cy="496.0" r="2.3" fill="#e8761a" stroke="#000" stroke-width="0.9"/>
<circle cx="193.9" cy="492.2" r="2.3" fill="#e8761a" stroke="#000" stroke-width="0.9"/>
<circle cx="208.4" cy="489.8" r="2.3" fill="#e8761a" stroke="#000" stroke-width="0.9"/>
<circle cx="222.0" cy="499.5" r="2.3" fill="#e8761a" stroke="#000" stroke-width="0.9"/>
<circle cx="238.3" cy="470.4" r="2.3" fill="#e8761a" stroke="#000" stroke-width="0.9"/>
<circle cx="247.7" cy="482.0" r="2.3" fill="#e8761a" stroke="#000" stroke-width="0.9"/>
<circle cx="183.3" cy="499.5" r="2.6" fill="#ff3a1a" stroke="#e8761a" stroke-width="0.8"/>
</g>
<g>
<path d="M327.7 427.3 H471.5 V534.8" fill="none" stroke="#000" stroke-width="1"/>
<line x1="327.6" y1="426.8" x2="327.6" y2="536.4" stroke="#000" stroke-width="1.15"/>
<line x1="325.3" y1="427.2" x2="327.7" y2="427.2" stroke="#000" stroke-width="0.9"/>
<line x1="325.5" y1="454.3" x2="329.9" y2="454.3" stroke="#000" stroke-width="0.9"/>
<line x1="327.7" y1="446.2" x2="329.1" y2="446.2" stroke="#000" stroke-width="0.7"/>
<line x1="327.7" y1="441.5" x2="329.1" y2="441.5" stroke="#000" stroke-width="0.7"/>
<line x1="327.7" y1="438.2" x2="329.1" y2="438.2" stroke="#000" stroke-width="0.7"/>
<line x1="327.7" y1="435.6" x2="329.1" y2="435.6" stroke="#000" stroke-width="0.7"/>
<line x1="327.7" y1="433.4" x2="329.1" y2="433.4" stroke="#000" stroke-width="0.7"/>
<line x1="327.7" y1="431.7" x2="329.1" y2="431.7" stroke="#000" stroke-width="0.7"/>
<line x1="327.7" y1="430.1" x2="329.1" y2="430.1" stroke="#000" stroke-width="0.7"/>
<line x1="327.7" y1="428.7" x2="329.1" y2="428.7" stroke="#000" stroke-width="0.7"/>
<line x1="325.5" y1="481.1" x2="329.9" y2="481.1" stroke="#000" stroke-width="0.9"/>
<line x1="327.7" y1="473.0" x2="329.1" y2="473.0" stroke="#000" stroke-width="0.7"/>
<line x1="327.7" y1="468.3" x2="329.1" y2="468.3" stroke="#000" stroke-width="0.7"/>
<line x1="327.7" y1="465.0" x2="329.1" y2="465.0" stroke="#000" stroke-width="0.7"/>
<line x1="327.7" y1="462.4" x2="329.1" y2="462.4" stroke="#000" stroke-width="0.7"/>
<line x1="327.7" y1="460.2" x2="329.1" y2="460.2" stroke="#000" stroke-width="0.7"/>
<line x1="327.7" y1="458.5" x2="329.1" y2="458.5" stroke="#000" stroke-width="0.7"/>
<line x1="327.7" y1="456.9" x2="329.1" y2="456.9" stroke="#000" stroke-width="0.7"/>
<line x1="327.7" y1="455.5" x2="329.1" y2="455.5" stroke="#000" stroke-width="0.7"/>
<line x1="327.7" y1="507.9" x2="329.5" y2="507.9" stroke="#000" stroke-width="0.9"/>
<line x1="327.7" y1="495.1" x2="329.1" y2="495.1" stroke="#000" stroke-width="0.7"/>
<line x1="327.7" y1="491.8" x2="329.1" y2="491.8" stroke="#000" stroke-width="0.7"/>
<line x1="327.7" y1="489.2" x2="329.1" y2="489.2" stroke="#000" stroke-width="0.7"/>
<line x1="327.7" y1="487.0" x2="329.1" y2="487.0" stroke="#000" stroke-width="0.7"/>
<line x1="327.7" y1="485.3" x2="329.1" y2="485.3" stroke="#000" stroke-width="0.7"/>
<line x1="327.7" y1="483.7" x2="329.1" y2="483.7" stroke="#000" stroke-width="0.7"/>
<line x1="327.7" y1="482.3" x2="329.1" y2="482.3" stroke="#000" stroke-width="0.7"/>
<line x1="350.4" y1="533.2" x2="350.4" y2="535.2" stroke="#000" stroke-width="1"/>
<line x1="356.3" y1="533.2" x2="356.3" y2="535.2" stroke="#000" stroke-width="1"/>
<line x1="373.3" y1="533.2" x2="373.3" y2="535.2" stroke="#000" stroke-width="1"/>
<line x1="389.9" y1="533.2" x2="389.9" y2="535.2" stroke="#000" stroke-width="1"/>
<line x1="398.6" y1="533.2" x2="398.6" y2="535.2" stroke="#000" stroke-width="1"/>
<line x1="412.6" y1="533.2" x2="412.6" y2="535.2" stroke="#000" stroke-width="1"/>
<line x1="417.9" y1="533.2" x2="417.9" y2="535.2" stroke="#000" stroke-width="1"/>
<line x1="437.3" y1="533.2" x2="437.3" y2="535.2" stroke="#000" stroke-width="1"/>
<line x1="456.3" y1="533.2" x2="456.3" y2="535.2" stroke="#000" stroke-width="1"/>
<line x1="459.2" y1="533.2" x2="459.2" y2="535.2" stroke="#000" stroke-width="1"/>
<line x1="461.6" y1="533.2" x2="461.6" y2="535.2" stroke="#000" stroke-width="1"/>
<line x1="463.9" y1="533.2" x2="463.9" y2="535.2" stroke="#000" stroke-width="1"/>
<line x1="466.4" y1="533.2" x2="466.4" y2="535.2" stroke="#000" stroke-width="1"/>
<line x1="375.3" y1="532.5" x2="375.3" y2="536.8" stroke="#000" stroke-width="1"/>
<line x1="423.1" y1="532.5" x2="423.1" y2="536.8" stroke="#000" stroke-width="1"/>
<text x="317.0" y="429.2" font-size="7" fill="#8296bd" textLength="2.0" lengthAdjust="spacingAndGlyphs">1</text>
<text x="310.8" y="456.7" font-size="7" fill="#8296bd" textLength="4.9" lengthAdjust="spacingAndGlyphs">0.1</text>
<text x="306.9" y="483.0" font-size="7" fill="#8296bd" textLength="7.2" lengthAdjust="spacingAndGlyphs">0.01</text>
<text x="303.4" y="510.0" font-size="7" fill="#8296bd" textLength="8.8" lengthAdjust="spacingAndGlyphs">0.001</text>
<text x="300.1" y="537.0" font-size="7" fill="#8296bd" textLength="11.1" lengthAdjust="spacingAndGlyphs">0.0001</text>
<text x="320.0" y="546.3" font-size="7" fill="#8296bd" textLength="6.7" lengthAdjust="spacingAndGlyphs">0.01</text>
<text x="370.4" y="546.3" font-size="7" fill="#8296bd" textLength="4.3" lengthAdjust="spacingAndGlyphs">0.1</text>
<text x="421.2" y="546.3" font-size="7" fill="#8296bd" textLength="1.3" lengthAdjust="spacingAndGlyphs">1</text>
<text x="467.4" y="546.3" font-size="7" fill="#8296bd" textLength="3.5" lengthAdjust="spacingAndGlyphs">10</text>
<text x="379.7" y="555.8" font-size="6.8" fill="#000" textLength="7.5" lengthAdjust="spacingAndGlyphs" font-weight="bold" stroke="#000" stroke-width="0.25">LS</text>
<text x="394.7" y="555.8" font-size="6.8" fill="#000" textLength="13.2" lengthAdjust="spacingAndGlyphs" font-weight="bold" stroke="#000" stroke-width="0.25">(L/kg)</text>
<text transform="translate(293.8 507.2) rotate(-90)" font-size="7.6" fill="#000" textLength="15.4" lengthAdjust="spacingAndGlyphs" font-weight="bold" stroke="#000" stroke-width="0.3">Arsenic</text>
<text transform="translate(293.8 480.5) rotate(-90)" font-size="7.6" fill="#000" textLength="14.0" lengthAdjust="spacingAndGlyphs" font-weight="bold" stroke="#000" stroke-width="0.3">[mg/L]</text>
<polyline points="369.9,463.6 397.1,466.9 420.8,474.3 435.0,481.5 444.1,516.4 450.3,499.5 454.8,499.5 471.3,501.9" fill="none" stroke="#e8761a" stroke-width="1" stroke-dasharray="1 2"/>
<polyline points="375.3,476.3 400.4,476.3 412.6,476.3 424.7,476.3 438.3,476.3 456.3,476.3 470.3,476.3" fill="none" stroke="#8a0a9a" stroke-width="1" stroke-dasharray="5 2 1 2 1 2"/>
<polyline points="379.8,468.9 393.3,475.7 410.1,484.0 418.8,491.8 441.2,496.6" fill="none" stroke="#1f8a3a" stroke-width="1" stroke-dasharray="3.5 3"/>
<polyline points="441.2,496.6 456.7,518.4 470.9,526.7" fill="none" stroke="#1f8a3a" stroke-width="1" stroke-dasharray="1 1.8"/>
<polyline points="376.3,479.2 390.8,487.5 409.1,495.7" fill="none" stroke="#f5b800" stroke-width="1" stroke-dasharray=""/>
<polyline points="409.1,495.7 423.7,496.0 437.9,495.7" fill="none" stroke="#f5b800" stroke-width="1.2" stroke-dasharray=""/>
<polyline points="437.9,495.7 457.7,499.5 471.3,502.5" fill="none" stroke="#f5b800" stroke-width="1" stroke-dasharray="4 2"/>
<polyline points="375.9,487.9 390.7,487.9" fill="none" stroke="#1a3fb0" stroke-width="1" stroke-dasharray="3 2.5"/>
<polyline points="390.7,487.9 409.1,501.5 423.7,496.6 437.3,502.1 456.3,509.3 470.9,501.5" fill="none" stroke="#1a3fb0" stroke-width="1" stroke-dasharray="1 2"/>
<polygon points="369.9,461.0 372.5,463.6 369.9,466.2 367.3,463.6" fill="#e8761a" stroke="#000" stroke-width="0.8"/>
<circle cx="397.1" cy="466.9" r="2.2" fill="#e8761a" stroke="#000" stroke-width="0.9"/>
<circle cx="420.8" cy="474.3" r="2.2" fill="#e8761a" stroke="#000" stroke-width="0.9"/>
<circle cx="435.0" cy="481.5" r="2.2" fill="#e8761a" stroke="#000" stroke-width="0.9"/>
<circle cx="444.1" cy="516.4" r="2.2" fill="#e8761a" stroke="#000" stroke-width="0.9"/>
<polygon points="450.3,496.9 452.9,499.5 450.3,502.1 447.7,499.5" fill="#e8761a" stroke="#000" stroke-width="0.8"/>
<polygon points="454.8,496.9 457.4,499.5 454.8,502.1 452.2,499.5" fill="#e8761a" stroke="#000" stroke-width="0.8"/>
<circle cx="471.3" cy="501.9" r="2.2" fill="#e8761a" stroke="#000" stroke-width="0.9"/>
<rect x="372.9" y="473.9" width="4.8" height="4.8" fill="#7030a0" stroke="#000" stroke-width="0.9"/>
<rect x="398.0" y="473.9" width="4.8" height="4.8" fill="#7030a0" stroke="#000" stroke-width="0.9"/>
<rect x="410.2" y="473.9" width="4.8" height="4.8" fill="#7030a0" stroke="#000" stroke-width="0.9"/>
<rect x="422.3" y="473.9" width="4.8" height="4.8" fill="#7030a0" stroke="#000" stroke-width="0.9"/>
<rect x="435.9" y="473.9" width="4.8" height="4.8" fill="#7030a0" stroke="#000" stroke-width="0.9"/>
<rect x="453.9" y="473.9" width="4.8" height="4.8" fill="#7030a0" stroke="#000" stroke-width="0.9"/>
<rect x="467.9" y="473.9" width="4.8" height="4.8" fill="#7030a0" stroke="#000" stroke-width="0.9"/>
<rect x="373.5" y="485.5" width="4.8" height="4.8" fill="#1a3fb0" stroke="#000" stroke-width="0.9"/>
<rect x="388.3" y="485.5" width="4.8" height="4.8" fill="#1a3fb0" stroke="#000" stroke-width="0.9"/>
<rect x="406.7" y="499.1" width="4.8" height="4.8" fill="#1a3fb0" stroke="#000" stroke-width="0.9"/>
<rect x="421.3" y="494.2" width="4.8" height="4.8" fill="#1a3fb0" stroke="#000" stroke-width="0.9"/>
<rect x="434.9" y="499.7" width="4.8" height="4.8" fill="#1a3fb0" stroke="#000" stroke-width="0.9"/>
<rect x="453.9" y="506.9" width="4.8" height="4.8" fill="#1a3fb0" stroke="#000" stroke-width="0.9"/>
<rect x="468.5" y="499.1" width="4.8" height="4.8" fill="#1a3fb0" stroke="#000" stroke-width="0.9"/>
<circle cx="379.8" cy="468.9" r="1.8" fill="#1f8a3a" stroke="#000" stroke-width="0.9"/>
<polygon points="393.3,473.2 395.8,475.7 393.3,478.2 390.8,475.7" fill="#1f8a3a" stroke="#000" stroke-width="0.8"/>
<polygon points="410.1,481.5 412.6,484.0 410.1,486.5 407.6,484.0" fill="#1f8a3a" stroke="#000" stroke-width="0.8"/>
<polygon points="418.8,489.3 421.3,491.8 418.8,494.3 416.3,491.8" fill="#1f8a3a" stroke="#000" stroke-width="0.8"/>
<polygon points="441.2,494.1 443.7,496.6 441.2,499.1 438.7,496.6" fill="#1f8a3a" stroke="#000" stroke-width="0.8"/>
<polygon points="456.7,515.9 459.2,518.4 456.7,520.9 454.2,518.4" fill="#1f8a3a" stroke="#000" stroke-width="0.8"/>
<circle cx="470.9" cy="526.7" r="1.8" fill="#1f8a3a" stroke="#000" stroke-width="0.9"/>
<polygon points="376.3,477.0 378.5,481.0 374.1,481.0" fill="#f5b800" stroke="#000" stroke-width="0.8"/>
<polygon points="390.8,485.3 393.0,489.3 388.6,489.3" fill="#f5b800" stroke="#000" stroke-width="0.8"/>
<polygon points="409.1,493.5 411.3,497.5 406.9,497.5" fill="#f5b800" stroke="#000" stroke-width="0.8"/>
<polygon points="423.7,493.8 425.9,497.8 421.5,497.8" fill="#f5b800" stroke="#000" stroke-width="0.8"/>
<polygon points="437.9,493.5 440.1,497.5 435.7,497.5" fill="#f5b800" stroke="#000" stroke-width="0.8"/>
<polygon points="457.7,497.3 459.9,501.3 455.5,501.3" fill="#f5b800" stroke="#000" stroke-width="0.8"/>
<polygon points="471.3,500.3 473.5,504.3 469.1,504.3" fill="#f5b800" stroke="#000" stroke-width="0.8"/>
<circle cx="335.9" cy="474.9" r="2.0" fill="none" stroke="#ff1010" stroke-width="0.9"/>
<circle cx="344.2" cy="479.2" r="2.0" fill="none" stroke="#ff1010" stroke-width="0.9"/>
<circle cx="347.5" cy="480.5" r="2.0" fill="none" stroke="#ff1010" stroke-width="0.9"/>
<circle cx="351.6" cy="475.3" r="2.0" fill="none" stroke="#ff1010" stroke-width="0.9"/>
<circle cx="363.3" cy="472.4" r="2.0" fill="none" stroke="#ff1010" stroke-width="0.9"/>
<circle cx="368.5" cy="485.4" r="2.0" fill="none" stroke="#ff1010" stroke-width="0.9"/>
<circle cx="371.4" cy="482.7" r="2.0" fill="none" stroke="#ff1010" stroke-width="0.9"/>
<circle cx="374.3" cy="481.1" r="2.0" fill="none" stroke="#ff1010" stroke-width="0.9"/>
<circle cx="386.0" cy="481.7" r="2.0" fill="none" stroke="#ff1010" stroke-width="0.9"/>
<circle cx="388.9" cy="482.1" r="2.0" fill="none" stroke="#ff1010" stroke-width="0.9"/>
<circle cx="391.8" cy="483.0" r="2.0" fill="none" stroke="#ff1010" stroke-width="0.9"/>
<circle cx="392.8" cy="486.9" r="2.0" fill="none" stroke="#ff1010" stroke-width="0.9"/>
<circle cx="389.9" cy="475.3" r="2.0" fill="none" stroke="#ff1010" stroke-width="0.9"/>
<circle cx="397.2" cy="470.4" r="2.0" fill="none" stroke="#ff1010" stroke-width="0.9"/>
<circle cx="398.6" cy="486.9" r="2.0" fill="none" stroke="#ff1010" stroke-width="0.9"/>
<circle cx="402.5" cy="485.0" r="2.0" fill="none" stroke="#ff1010" stroke-width="0.9"/>
<circle cx="401.5" cy="488.9" r="2.0" fill="none" stroke="#ff1010" stroke-width="0.9"/>
<circle cx="397.5" cy="470.0" r="2.0" fill="none" stroke="#ff1010" stroke-width="0.9"/>
<circle cx="406.2" cy="472.4" r="2.0" fill="none" stroke="#ff1010" stroke-width="0.9"/>
<circle cx="414.0" cy="470.4" r="2.0" fill="none" stroke="#ff1010" stroke-width="0.9"/>
<circle cx="407.2" cy="475.3" r="2.0" fill="none" stroke="#ff1010" stroke-width="0.9"/>
<circle cx="410.1" cy="478.2" r="2.0" fill="none" stroke="#ff1010" stroke-width="0.9"/>
<circle cx="417.9" cy="475.3" r="2.0" fill="none" stroke="#ff1010" stroke-width="0.9"/>
<circle cx="385.8" cy="482.1" r="2.0" fill="none" stroke="#ff1010" stroke-width="0.9"/>
<circle cx="390.7" cy="483.0" r="2.0" fill="none" stroke="#ff1010" stroke-width="0.9"/>
<circle cx="399.4" cy="486.9" r="2.0" fill="none" stroke="#ff1010" stroke-width="0.9"/>
<circle cx="409.1" cy="482.1" r="2.0" fill="none" stroke="#ff1010" stroke-width="0.9"/>
<circle cx="410.7" cy="485.6" r="2.0" fill="none" stroke="#ff1010" stroke-width="0.9"/>
<circle cx="416.9" cy="481.7" r="2.0" fill="none" stroke="#ff1010" stroke-width="0.9"/>
<circle cx="421.7" cy="483.0" r="2.0" fill="none" stroke="#ff1010" stroke-width="0.9"/>
<circle cx="424.3" cy="485.0" r="2.0" fill="none" stroke="#ff1010" stroke-width="0.9"/>
<circle cx="420.8" cy="486.9" r="2.0" fill="none" stroke="#ff1010" stroke-width="0.9"/>
<circle cx="422.7" cy="488.9" r="2.0" fill="none" stroke="#ff1010" stroke-width="0.9"/>
<circle cx="417.9" cy="490.2" r="2.0" fill="none" stroke="#ff1010" stroke-width="0.9"/>
<circle cx="413.0" cy="491.8" r="2.0" fill="none" stroke="#ff1010" stroke-width="0.9"/>
<circle cx="425.6" cy="499.2" r="2.0" fill="none" stroke="#ff1010" stroke-width="0.9"/>
</g>
</svg>
</body></html>
